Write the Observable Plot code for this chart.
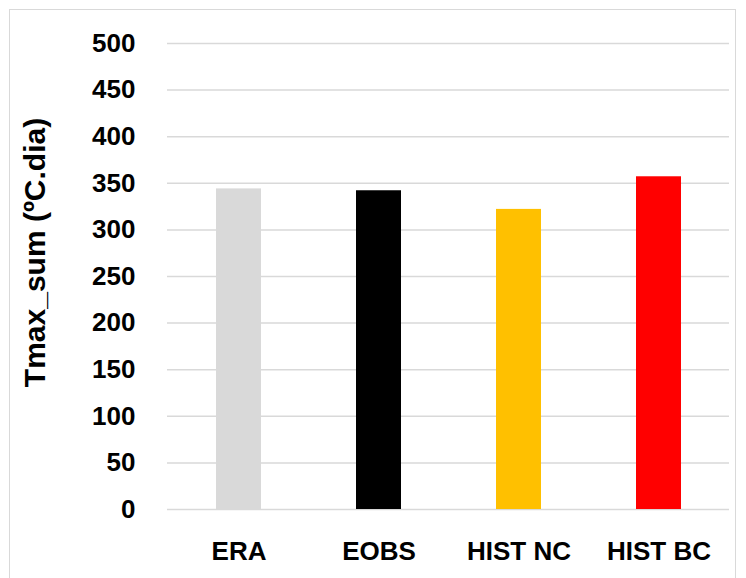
<!DOCTYPE html>
<html>
<head>
<meta charset="utf-8">
<script src="https://cdn.jsdelivr.net/npm/d3@7"></script>
<script src="https://cdn.jsdelivr.net/npm/@observablehq/plot@0.6"></script>
<style>
  html, body { margin: 0; padding: 0; background: #fff; }
  #wrap { position: relative; width: 746px; height: 578px; overflow: hidden; }
  #border { position: absolute; left: 9px; top: 9px; width: 727px; height: 600px; border: 1.5px solid #d9d9d9; box-sizing: border-box; pointer-events: none; }
</style>
</head>
<body>
<div id="wrap"><div id="border"></div></div>
<script>
const categories = ["ERA", "EOBS", "HIST NC", "HIST BC"];
const values = [344, 342, 322, 357];
const colors = ["#d9d9d9", "#000000", "#ffc000", "#ff0000"];
const yTicks = [0, 50, 100, 150, 200, 250, 300, 350, 400, 450, 500];
const yTitle = "Tmax_sum (ºC.dia)";

const data = categories.map((c, i) => ({cat: c, value: values[i], color: colors[i]}));
const font = "'Liberation Sans', Arial, sans-serif";

const chart = Plot.plot({
  width: 746,
  height: 578,
  marginLeft: 167,
  marginRight: 17,
  marginTop: 43,
  marginBottom: 69,
  style: {fontFamily: font, background: "transparent", color: "#000"},
  x: {domain: categories, paddingInner: 0.68, paddingOuter: 0.34, label: null},
  y: {domain: [0, 500], label: null},
  marks: [
    Plot.gridY(yTicks, {stroke: "#d9d9d9", strokeOpacity: 1, strokeWidth: 1.5}),
    Plot.barY(data, {x: "cat", y: "value", fill: "color"}),
    Plot.axisY(yTicks, {tickSize: 0, tickPadding: 32, fontSize: 26, fontWeight: "bold", fill: "#000", label: null}),
    Plot.axisX({tickSize: 0, tickPadding: 32, fontSize: 26, fontWeight: "bold", fill: "#000", label: null}),
    Plot.text([yTitle], {text: d => d, frameAnchor: "left", textAnchor: "middle", lineAnchor: "middle", rotate: -90, dx: -132, dy: -24, fontSize: 30, fontWeight: "bold", fill: "#000"})
  ]
});
document.getElementById("wrap").prepend(chart);
</script>
</body>
</html>
